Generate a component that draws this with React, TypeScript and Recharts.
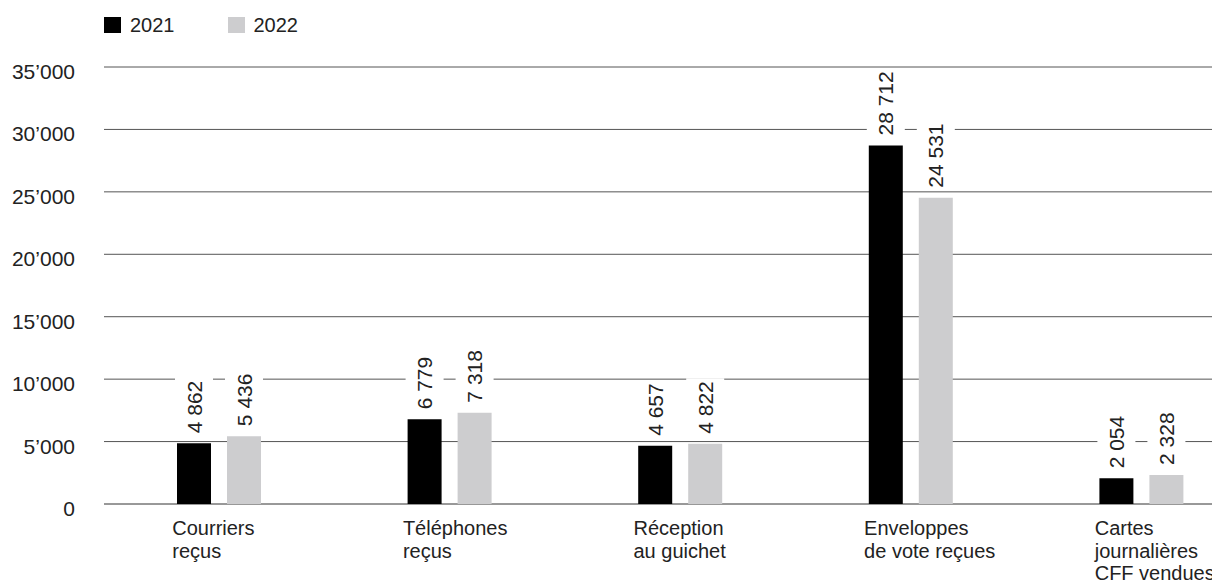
import React from 'react';
import { BarChart, Bar, XAxis, YAxis, CartesianGrid, Legend, LabelList } from 'recharts';

const categories = [
  'Courriers\nreçus',
  'Téléphones\nreçus',
  'Réception\nau guichet',
  'Enveloppes\nde vote reçues',
  'Cartes\njournalières\nCFF vendues',
];
const values2021 = [4862, 6779, 4657, 28712, 2054];
const values2022 = [5436, 7318, 4822, 24531, 2328];
const yTicks = [0, 5000, 10000, 15000, 20000, 25000, 30000, 35000];
const seriesNames = ['2021', '2022'];
const seriesColors = ['#000000', '#cdcdcf'];

const data = categories.map((c, i) => ({ name: c, v2021: values2021[i], v2022: values2022[i] }));

const FONT = '"Liberation Sans", Arial, Helvetica, sans-serif';
const TEXT = '#222222';
const FS = 21;
const XFS = 20;
const GRID_LEN = 1108;

const fmtValue = (v: number) => String(v).replace(/\B(?=(\d{3})+(?!\d))/g, ' ');
const fmtTick = (v: number) => (v === 0 ? '0' : `${v / 1000}\u2019000`);

const textLen = (s: string, fs: number) =>
  s.split('').reduce((a, ch) => a + (ch === ' ' ? 0.278 : 0.556), 0) * fs;

const ValueLabel = (props: any) => {
  const x = Number(props.x ?? props.viewBox?.x);
  const y = Number(props.y ?? props.viewBox?.y);
  const width = Number(props.width ?? props.viewBox?.width);
  const text = fmtValue(Number(props.value));
  const len = textLen(text, FS);
  const bottom = y - 10;
  const top = bottom - len;
  const cx = x + width / 2;
  return (
    <g>
      <rect x={x - 2} y={top - 3} width={width + 4} height={len + 6} fill="#ffffff" />
      <text
        x={cx}
        y={bottom}
        transform={`rotate(-90, ${cx}, ${bottom})`}
        dy="0.36em"
        textAnchor="start"
        fontSize={FS}
        fontFamily={FONT}
        fill={TEXT}
      >
        {text}
      </text>
    </g>
  );
};

const YTick = (props: any) => {
  const { x, y, payload } = props;
  return (
    <text x={x - 29} y={y + 12} textAnchor="end" fontSize={FS} fontFamily={FONT} fill={TEXT}>
      {fmtTick(payload.value)}
    </text>
  );
};

const XTick = (props: any) => {
  const { x, y, payload } = props;
  const lines = String(payload.value).split('\n');
  const lx = x - 47;
  return (
    <text x={lx} y={y + 31} textAnchor="start" fontSize={XFS} fontFamily={FONT} fill={TEXT}>
      {lines.map((l, i) => (
        <tspan key={i} x={lx} dy={i === 0 ? 0 : 22.5}>
          {l}
        </tspan>
      ))}
    </text>
  );
};

const GridLine = (props: any) => {
  const { x1, y1, y2, key } = props;
  const isZero = Math.abs(Number(y1) - 496) < 1;
  return (
    <line
      key={key}
      x1={x1}
      x2={Number(x1) + GRID_LEN}
      y1={y1}
      y2={y2}
      stroke={isZero ? '#333333' : '#555555'}
      strokeWidth={1}
    />
  );
};

const LegendContent = () => (
  <div style={{ display: 'flex', alignItems: 'center', fontFamily: FONT, fontSize: 20, color: TEXT, lineHeight: '24px' }}>
    {seriesNames.map((n, i) => (
      <div key={n} style={{ display: 'flex', alignItems: 'center', marginRight: 53 }}>
        <span style={{ width: 17, height: 16, background: seriesColors[i], display: 'inline-block', marginRight: 9 }} />
        <span>{n}</span>
      </div>
    ))}
  </div>
);

export default function App() {
  return (
    <div style={{ width: 1212, height: 575, overflow: 'hidden', position: 'relative', background: '#fff' }}>
      <BarChart
        width={1249}
        height={575}
        data={data}
        margin={{ top: 59, right: 0, bottom: 0, left: 0 }}
        barGap={16}
        barCategoryGap={0}
      >
        <CartesianGrid horizontal={GridLine} vertical={false} />
        <XAxis
          dataKey="name"
          interval={0}
          height={79}
          tickSize={0}
          tickMargin={0}
          tickLine={false}
          axisLine={false}
          tick={<XTick />}
        />
        <YAxis
          width={96}
          domain={[0, 35000]}
          ticks={yTicks}
          tickSize={0}
          tickMargin={0}
          tickLine={false}
          axisLine={false}
          tick={<YTick />}
        />
        <Legend
          layout="horizontal"
          verticalAlign="middle"
          align="center"
          wrapperStyle={{ top: 5, left: 96, width: 'auto', height: 'auto' }}
          content={<LegendContent />}
        />
        <Bar dataKey="v2021" name={seriesNames[0]} fill={seriesColors[0]} barSize={34} isAnimationActive={false}>
          <LabelList dataKey="v2021" content={<ValueLabel />} />
        </Bar>
        <Bar dataKey="v2022" name={seriesNames[1]} fill={seriesColors[1]} barSize={34} isAnimationActive={false}>
          <LabelList dataKey="v2022" content={<ValueLabel />} />
        </Bar>
      </BarChart>
    </div>
  );
}
